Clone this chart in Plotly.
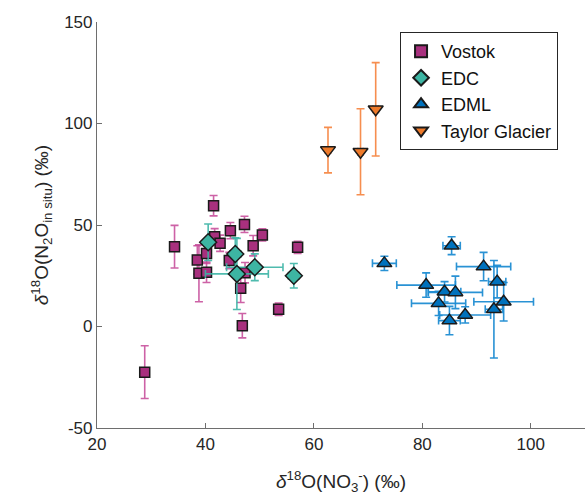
import plotly.graph_objects as go

# Vostok
vos_x = [28.8, 34.3, 41.5, 41.7, 42.7, 44.6, 47.2, 38.5, 40.2, 44.4, 50.5, 48.8, 57.0, 38.8, 40.2, 47.3, 46.5, 46.8, 53.5]
vos_y = [-22.5, 39.3, 59.5, 44.2, 41.0, 47.2, 50.3, 32.8, 36.0, 32.5, 45.1, 39.8, 39.0, 26.2, 26.7, 26.5, 18.8, 0.4, 8.5]
vos_xerr = [0.5] * 19
vos_yerr = [13, 10.5, 5, 4, 4, 4, 4, 7, 5, 4, 3, 5, 3, 14, 5, 5, 7, 6, 3]

# EDC
edc_x = [40.5, 45.5, 45.8, 49.1, 56.3]
edc_y = [41.5, 35.7, 25.9, 29.2, 25.0]
edc_xerr = [0.8, 1.0, 5.8, 5.2, 1.0]
edc_yerr = [9, 8, 17.5, 6.6, 6]

# EDML
edml_x = [73.0, 85.4, 80.7, 84.1, 86.1, 83.0, 85.0, 87.9, 91.3, 93.8, 95.0, 93.2]
edml_y = [31.1, 39.8, 20.4, 17.1, 16.8, 11.4, 2.9, 5.7, 29.5, 22.1, 12.2, 8.5]
edml_xerr = [2.2, 1.6, 5.4, 3.0, 5.0, 5.0, 2.0, 4.7, 5.0, 1.6, 5.5, 1.6]
edml_yerr = [3.5, 4.4, 6.0, 5.0, 8.0, 6.0, 7.0, 4.0, 7.0, 8.0, 9.5, 24.0]

# Taylor Glacier
tg_x = [62.6, 68.6, 71.4]
tg_y = [86.9, 86.1, 107.0]
tg_xerr = [0.5, 0.5, 0.5]
tg_yerr = [11.2, 21.2, 23.0]

x_ticks = [20, 40, 60, 80, 100]
x_ticklabels = ["20", "40", "60", "80", "100"]
y_ticks = [-50, 0, 50, 100, 150]
y_ticklabels = ["-50", "0", "50", "100", "150"]

series = [
    ("Vostok", vos_x, vos_y, vos_xerr, vos_yerr, "square", "#A8307E", "rgba(196,70,150,0.85)", 10),
    ("EDC", edc_x, edc_y, edc_xerr, edc_yerr, "diamond", "#3DB5A3", "rgba(60,180,165,0.9)", 13),
    ("EDML", edml_x, edml_y, edml_xerr, edml_yerr, "triangle-up", "#0072BD", "rgba(30,140,210,0.95)", 13),
    ("Taylor Glacier", tg_x, tg_y, tg_xerr, tg_yerr, "triangle-down", "#EE7A2A", "rgba(245,130,60,0.9)", 13),
]

fig = go.Figure()
for name, x, y, xe, ye, sym, fill, ecol, size in series:
    fig.add_trace(go.Scatter(
        x=x, y=y, mode="markers", name=name,
        marker=dict(symbol=sym, size=size, color=fill, line=dict(color="#1a1a1a", width=1.5)),
        error_x=dict(type="data", array=xe, visible=True, color=ecol, thickness=1.6, width=4),
        error_y=dict(type="data", array=ye, visible=True, color=ecol, thickness=1.6, width=4),
    ))

axcol = "#6e6e6e"
font = dict(family="Liberation Sans, Arial, sans-serif", size=17, color="#262626")
fig.update_layout(
    width=585, height=503,
    margin=dict(l=97, r=0, t=22, b=75),
    paper_bgcolor="white", plot_bgcolor="white",
    font=font,
    showlegend=True,
    legend=dict(x=0.621, y=0.975, xanchor="left", yanchor="top",
                bordercolor="#262626", borderwidth=1, bgcolor="white",
                font=dict(size=18, color="#111111"), itemsizing="constant",
                tracegroupgap=0),
)
fig.update_xaxes(range=[20, 110], tickvals=x_ticks, ticktext=x_ticklabels, showgrid=False, zeroline=False,
                 showline=True, linecolor=axcol, linewidth=1.2, ticks="inside", ticklen=5,
                 tickcolor=axcol, mirror=False,
                 title=dict(text="<i>δ</i><sup>18</sup>O(NO<sub>3</sub><sup>-</sup>) (‰)", standoff=22,
                            font=dict(size=19)))
fig.update_yaxes(range=[-50, 150], tickvals=y_ticks, ticktext=y_ticklabels, showgrid=False, zeroline=False,
                 showline=True, linecolor=axcol, linewidth=1.2, ticks="inside", ticklen=5,
                 tickcolor=axcol, mirror=False,
                 title=dict(text="<i>δ</i><sup>18</sup>O(N<sub>2</sub>O<sub>in situ</sub>) (‰)", standoff=10,
                            font=dict(size=19)))

fig.write_html("out.html")
